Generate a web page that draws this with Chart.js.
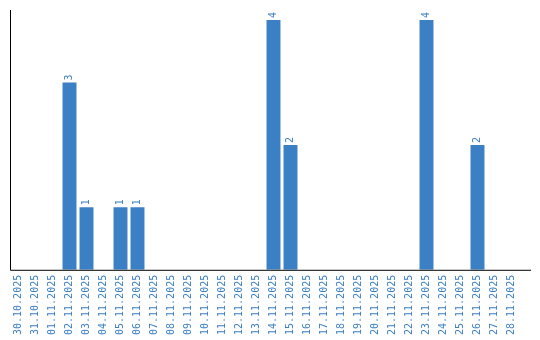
<!DOCTYPE html>
<html>
<head>
<meta charset="utf-8">
<script src="https://cdn.jsdelivr.net/npm/chart.js@4"></script>
<style>
  body { margin: 0; background: #ffffff; }
</style>
</head>
<body>
<canvas id="grafico" width="540" height="340"></canvas>
<script>
// dates and counts
const datas = ["30.10.2025", "31.10.2025", "01.11.2025", "02.11.2025", "03.11.2025", "04.11.2025",
  "05.11.2025", "06.11.2025", "07.11.2025", "08.11.2025", "09.11.2025", "10.11.2025",
  "11.11.2025", "12.11.2025", "13.11.2025", "14.11.2025", "15.11.2025", "16.11.2025",
  "17.11.2025", "18.11.2025", "19.11.2025", "20.11.2025", "21.11.2025", "22.11.2025",
  "23.11.2025", "24.11.2025", "25.11.2025", "26.11.2025", "27.11.2025", "28.11.2025"];
const contagens = [0, 0, 0, 3, 1, 0, 1, 1, 0, 0, 0, 0, 0, 0, 0, 4, 2, 0, 0, 0, 0, 0, 0, 0, 4, 0, 0, 2, 0, 0];

const azul = "#3b7fc4";
const fonte = "'DejaVu Sans Mono', monospace";

// draws value labels rotated above each bar, plus the two axis lines
const rotulos = {
    id: "rotulos",
    afterDatasetsDraw(chart) {
        const ctx = chart.ctx;
        const meta = chart.getDatasetMeta(0);
        ctx.save();
        ctx.fillStyle = azul;
        ctx.font = "10px " + fonte;
        ctx.textAlign = "left";
        ctx.textBaseline = "middle";
        meta.data.forEach((bar, i) => {
            const v = contagens[i];
            if (!v) return;
            ctx.save();
            ctx.translate(bar.x, bar.y - 2);
            ctx.rotate(-Math.PI / 2);
            ctx.fillText(String(v), 0, 0);
            ctx.restore();
        });
        const a = chart.chartArea;
        ctx.strokeStyle = "#000000";
        ctx.lineWidth = 1;
        ctx.beginPath();
        ctx.moveTo(a.left + 0.5, a.top);
        ctx.lineTo(a.left + 0.5, a.bottom + 0.5);
        ctx.lineTo(a.right + 11, a.bottom + 0.5);
        ctx.stroke();
        ctx.restore();
    }
};

new Chart(document.getElementById("grafico"), {
    type: "bar",
    data: {
        labels: datas,
        datasets: [{ data: contagens, backgroundColor: azul, barPercentage: 0.82, categoryPercentage: 1 }]
    },
    options: {
        responsive: false,
        animation: false,
        layout: { padding: { left: 10, top: 10, right: 20, bottom: 0 } },
        plugins: { legend: { display: false }, tooltip: { enabled: false } },
        scales: {
            x: {
                grid: { display: false, drawTicks: false },
                border: { display: false },
                ticks: { color: azul, font: { family: fonte, size: 10 }, minRotation: 90, maxRotation: 90, autoSkip: false, padding: 5 }
            },
            y: {
                beginAtZero: true,
                max: Math.max(...contagens) * 1.04,
                grid: { display: false, drawTicks: false },
                border: { display: false },
                ticks: { display: false }
            }
        }
    },
    plugins: [rotulos]
});
</script>
</body>
</html>
